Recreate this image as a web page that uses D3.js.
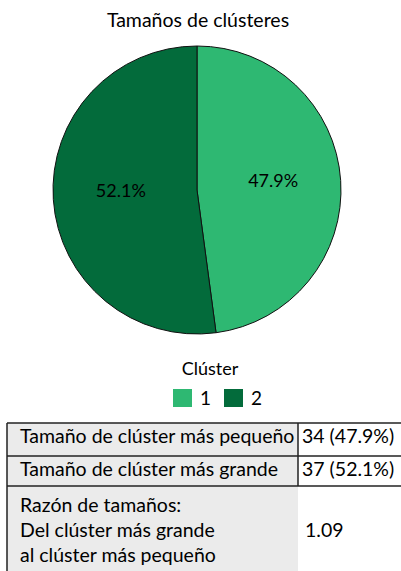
<!DOCTYPE html>
<html>
<head>
<meta charset="utf-8">
<script src="https://cdn.jsdelivr.net/npm/d3@7"></script>
<style>
  body { margin: 0; background: #fff; }
  svg { display: block; font-family: Lato, "Noto Sans", sans-serif; }
</style>
</head>
<body>
<svg></svg>
<script>
// chart data
const clusters = ["1", "2"];
const clusterSizes = [34, 37];
const clusterColors = ["#2eb872", "#036b3b"];

const tableLabels = [
    ["Tamaño de clúster más pequeño"],
    ["Tamaño de clúster más grande"],
    ["Razón de tamaños:", "Del clúster más grande", "al clúster más pequeño"]
];
const tableValues = ["34 (47.9%)", "37 (52.1%)", "1.09"];

const width = 401, height = 571;
const svg = d3.select("svg").attr("width", width).attr("height", height);

const cx = 197, cy = 190, radius = 144;
const total = d3.sum(clusterSizes);

// title
svg.append("text")
    .attr("x", 198).attr("y", 27)
    .attr("text-anchor", "middle")
    .style("font-size", "19.5px")
    .text("Tamaños de clústeres");

const pie = d3.pie().sort(null).value(d => d)(clusterSizes);
const arc = d3.arc().innerRadius(0).outerRadius(radius);
const labelArc = d3.arc().innerRadius(radius * 0.53).outerRadius(radius * 0.53);

const g = svg.append("g").attr("transform", `translate(${cx},${cy})`);

g.selectAll("path")
    .data(pie)
    .enter().append("path")
    .attr("d", arc)
    .attr("fill", (d, i) => clusterColors[i])
    .attr("stroke", "#111")
    .attr("stroke-width", 1);

g.selectAll("text.pct")
    .data(pie)
    .enter().append("text")
    .attr("class", "pct")
    .attr("transform", d => `translate(${labelArc.centroid(d)})`)
    .attr("text-anchor", "middle")
    .attr("dy", "0.1em")
    .style("font-size", "18px")
    .text(d => (d.value / total * 100).toFixed(1) + "%");

// legend
svg.append("text")
    .attr("x", 210).attr("y", 375)
    .attr("text-anchor", "middle")
    .style("font-size", "18px")
    .text("Clúster");

const legendX = d3.scaleOrdinal().domain(clusters).range([173, 224]);
const legend = svg.selectAll("g.leg")
    .data(clusters)
    .enter().append("g")
    .attr("class", "leg")
    .attr("transform", d => `translate(${legendX(d)},389)`);
legend.append("rect")
    .attr("width", 19).attr("height", 18)
    .attr("fill", (d, i) => clusterColors[i]);
legend.append("text")
    .attr("x", 27).attr("y", 16)
    .style("font-size", "19px")
    .text(d => d);

// summary table
const tableLeft = 7, colSplit = 298, tableRight = 401;
const rowTops = [423, 456, 486, 571];
const lineGap = 25;

const rows = svg.selectAll("g.row")
    .data(tableLabels)
    .enter().append("g")
    .attr("class", "row");

rows.append("rect")
    .attr("x", tableLeft)
    .attr("y", (d, i) => rowTops[i])
    .attr("width", colSplit - tableLeft)
    .attr("height", (d, i) => rowTops[i + 1] - rowTops[i])
    .attr("fill", "#ebebeb");

rows.each(function (lines, i) {
    const row = d3.select(this);
    const base = i < 2 ? rowTops[i] + 20 : rowTops[i] + 26;
    lines.forEach((line, k) => {
        row.append("text")
            .attr("x", 20)
            .attr("y", base + k * lineGap)
            .style("font-size", "19.5px")
            .text(line);
    });
    const valueY = base + (lines.length - 1) * lineGap / 2;
    row.append("text")
        .attr("x", i < 2 ? 302 : 305)
        .attr("y", valueY)
        .style("font-size", "19.5px")
        .text(tableValues[i]);
});

// borders
const border = svg.append("g").attr("stroke", "#222").attr("stroke-width", 1.5);
rowTops.slice(0, 3).forEach(y => {
    border.append("line")
        .attr("x1", tableLeft).attr("x2", tableRight)
        .attr("y1", y).attr("y2", y);
});
border.append("line")
    .attr("x1", tableLeft).attr("x2", tableLeft)
    .attr("y1", rowTops[0]).attr("y2", height);
border.append("line")
    .attr("x1", colSplit).attr("x2", colSplit)
    .attr("y1", rowTops[0]).attr("y2", rowTops[2]);
</script>
</body>
</html>
